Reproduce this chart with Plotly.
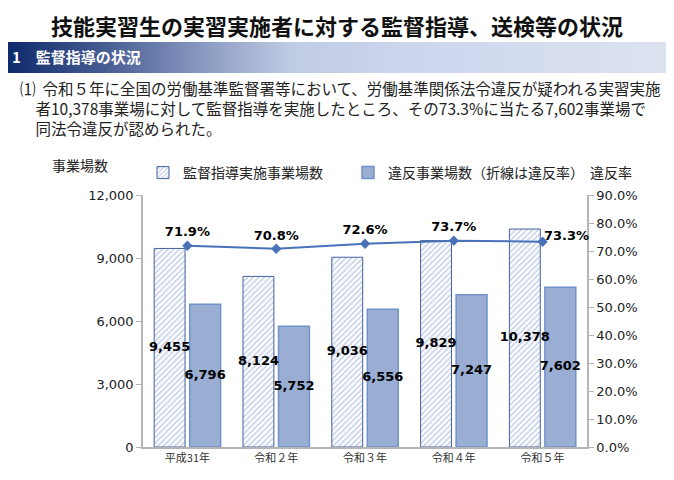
import base64
import plotly.graph_objects as go

years = ["平成31年", "令和２年", "令和３年", "令和４年", "令和５年"]
inspected = [9455, 8124, 9036, 9829, 10378]
violations = [6796, 5752, 6556, 7247, 7602]
rate = [0.719, 0.708, 0.726, 0.737, 0.733]

W, H = 674, 480
JP = "Noto Sans CJK JP"
NUM = "DejaVu Sans, Noto Sans CJK JP"
PAGE = 8  # the page puts the figure 8px in from the window corner

def fx(x):
    # window pixel -> paper x
    return (x - PAGE) / W

def fy(y):
    # window pixel (from top) -> paper y
    return 1 - (y - PAGE) / H

xs = list(range(len(years)))
off = 0.2  # half spacing between the two bars of a group
bold = dict(family=NUM, size=13, color="black", weight="bold")

fig = go.Figure()
fig.add_trace(go.Bar(
    x=xs, y=inspected, name="監督指導実施事業場数", legend="legend",
    marker=dict(color="white",
                pattern=dict(shape="/", fgcolor="#93a8d4", bgcolor="white", size=4, solidity=0.45),
                line=dict(color="#44619a", width=1)),
))
fig.add_trace(go.Bar(
    x=xs, y=violations, name="違反事業場数（折線は違反率）", legend="legend2",
    marker=dict(color="#9aaed3", line=dict(color="#6f93c9", width=1.5)),
))
# bar value labels, centred on each bar
fig.add_trace(go.Scatter(
    x=[i - off for i in xs], y=[v / 2 for v in inspected], mode="text", showlegend=False,
    text=[f"{v:,}" for v in inspected], cliponaxis=False, textfont=bold,
))
fig.add_trace(go.Scatter(
    x=[i + off for i in xs], y=[v / 2 for v in violations], mode="text", showlegend=False,
    text=[f"{v:,}" for v in violations], cliponaxis=False, textfont=bold,
))
fig.add_trace(go.Scatter(
    x=xs, y=rate, yaxis="y2", mode="lines+markers+text", showlegend=False,
    line=dict(color="#4a72b8", width=2),
    marker=dict(symbol="diamond", size=8, color="#4a72b8"),
    text=[f"{r:.1%}" for r in rate[:-1]] + [""],
    textposition="top center", textfont=bold, cliponaxis=False,
))
# last rate label sits just right of its marker
fig.add_annotation(x=xs[-1], y=rate[-1], xref="x", yref="y2", text=f"{rate[-1]:.1%}",
                   showarrow=False, xanchor="left", yanchor="bottom", xshift=-1, yshift=-3,
                   font=bold)

# gradient header band
svg = ('<svg xmlns="http://www.w3.org/2000/svg" width="674" height="31" preserveAspectRatio="none">'
       '<defs><linearGradient id="g" x1="0" y1="0" x2="1" y2="0">'
       '<stop offset="0" stop-color="#0d2a6b"/>'
       '<stop offset="0.15" stop-color="#4a5f94"/>'
       '<stop offset="0.3" stop-color="#8e9ec4"/>'
       '<stop offset="0.42" stop-color="#c0cbe4"/>'
       '<stop offset="0.6" stop-color="#ccd6ee"/>'
       '<stop offset="1" stop-color="#dde3f0"/>'
       '</linearGradient></defs><rect width="674" height="31" fill="url(#g)"/></svg>')
src = "data:image/svg+xml;base64," + base64.b64encode(svg.encode()).decode()

axis_line = dict(showline=True, linecolor="#b5b5b5", linewidth=1.5, showgrid=False,
                 zeroline=False, automargin=False)
leg = dict(orientation="h", yanchor="middle", xanchor="left", y=fy(173),
           font=dict(family=JP, size=14, color="#222"), bgcolor="rgba(0,0,0,0)", itemwidth=30)

fig.update_layout(
    width=W, height=H, margin=dict(l=0, r=0, t=0, b=0, pad=0),
    paper_bgcolor="white", plot_bgcolor="white",
    barmode="group", bargap=0.2, bargroupgap=0.13,
    font=dict(family=NUM, color="#222"),
    xaxis=dict(domain=[fx(143), fx(587)], range=[-0.5, 4.5],
               tickvals=xs, ticktext=years, tickfont=dict(family=JP, size=11, color="#333"),
               ticks="", **axis_line),
    yaxis=dict(domain=[fy(447), fy(195)], range=[0, 12000], dtick=3000, tickformat=",",
               ticks="outside", ticklen=5, tickcolor="#b5b5b5",
               tickfont=dict(size=13, color="#222"), **axis_line),
    yaxis2=dict(overlaying="y", side="right", range=[0, 0.9], dtick=0.1, tickformat=".1%",
                ticks="outside", ticklen=5, tickcolor="#b5b5b5",
                tickfont=dict(size=13, color="#222"), **axis_line),
    legend=dict(x=fx(143), **leg),
    legend2=dict(x=fx(348), **leg),
    images=[dict(source=src, xref="paper", yref="paper", x=0, y=fy(42), sizex=1, sizey=31 / H,
                 sizing="stretch", layer="below", xanchor="left", yanchor="top")],
)

para = ("⑴\u00a0\u00a0令和５年に全国の労働基準監督署等において、労働基準関係法令違反が疑われる実習実施<br>"
        "　者10,378事業場に対して監督指導を実施したところ、その73.3%に当たる7,602事業場で<br>"
        "　同法令違反が認められた。")

anns = [
    dict(text="<b>技能実習生の実習実施者に対する監督指導、送検等の状況</b>", x=fx(337), y=1,
         xanchor="center", yanchor="top", borderpad=0, font=dict(family=JP, size=22, color="#111")),
    dict(text="<b>1　監督指導の状況</b>", x=fx(10), y=fy(57), xanchor="left",
         font=dict(family=JP, size=15, color="white")),
    dict(text=para, x=fx(18), y=fy(108), xanchor="left", align="left",
         font=dict(family=JP, size=15.5, color="#222")),
    dict(text="事業場数", x=fx(50), y=fy(165), xanchor="left", font=dict(family=JP, size=14, color="#222")),
    dict(text="違反率", x=fx(588), y=fy(172), xanchor="left", font=dict(family=JP, size=14, color="#222")),
]
for a in anns:
    a.setdefault("yanchor", "middle")
    fig.add_annotation(xref="paper", yref="paper", showarrow=False, **a)

fig.write_html("out.html")
